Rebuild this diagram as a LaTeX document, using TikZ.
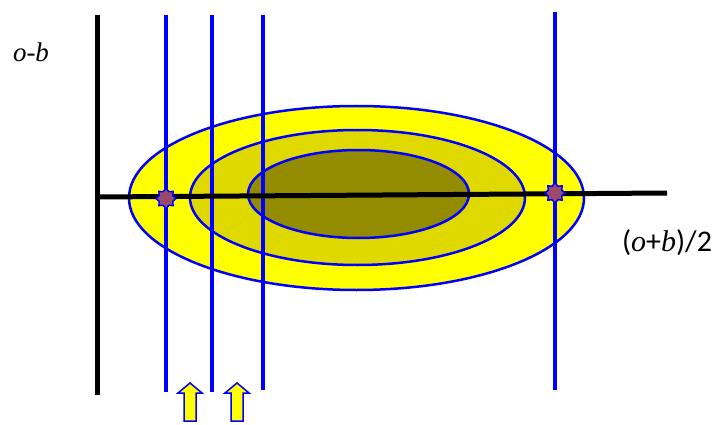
\documentclass[tikz,border=0pt]{standalone}
\usepackage{fontspec}
\setmainfont{Liberation Serif}
\newfontfamily\labelsans{Carlito}
\usepackage{tikz}
\usetikzlibrary{shapes.geometric}
\definecolor{outeryellow}{HTML}{FFFF00}
\definecolor{midyellow}{HTML}{E0D900}
\definecolor{inneryellow}{HTML}{948C00}
\definecolor{lineblue}{HTML}{0000FF}
\definecolor{markpurple}{HTML}{9C4A6B}
\tikzset{
  regionfill/.style={draw=lineblue, line width=2.5pt, fill=#1},
  cutline/.style={draw=lineblue, line width=4pt},
  axisline/.style={draw=black, line width=5pt},
  crossmark/.style={star, star points=8, star point ratio=1.35, minimum size=20pt,
    inner sep=0pt, fill=markpurple, draw=lineblue, line width=1.5pt},
  blockarrow/.style={fill=outeryellow, draw=lineblue, line width=1.5pt, line join=miter}
}

\begin{document}
\begin{tikzpicture}[x=1pt, y=-1pt]
\useasboundingbox (0,0) rectangle (720,425);

% nested regions
\path[regionfill=outeryellow] (356.5,198) ellipse [x radius=227.5, y radius=92];
\path[regionfill=midyellow] (357.5,197.5) ellipse [x radius=167.5, y radius=67.5];
\path[regionfill=inneryellow] (358.5,194) ellipse [x radius=110.5, y radius=44];

% vertical cuts
\foreach \cx/\ytop/\ybot in {166/15/392, 212/15/392, 263/15/390, 555/12/390}
  \draw[cutline] (\cx,\ytop) -- (\cx,\ybot);

% axes
\coordinate (origin) at (97,197);
\draw[axisline] (97,15) -- (97,395);
\draw[axisline] (97,197) -- (667,193);

% crossings
\node[crossmark] (crossL) at (166,198.5) {};
\node[crossmark] (crossR) at (555,193) {};

% shift arrows
\foreach \name/\ax in {shiftA/190, shiftB/237} {
  \coordinate (\name) at (\ax,383);
  \path[blockarrow] (\name) -- ++(12,10) -- ++(-6,0) -- ++(0,28) -- ++(-12,0)
    -- ++(0,-28) -- ++(-6,0) -- cycle;
}

% axis labels
\node[font=\fontsize{27}{30}\selectfont\itshape] (ylabel) at (31,52) {o-b};
\node[font=\fontsize{30}{33}\selectfont] (xlabel) at (667,243)
  {{\labelsans(}\textit{o}{\labelsans+}\textit{b}{\labelsans)/2}};
\end{tikzpicture}
\end{document}
